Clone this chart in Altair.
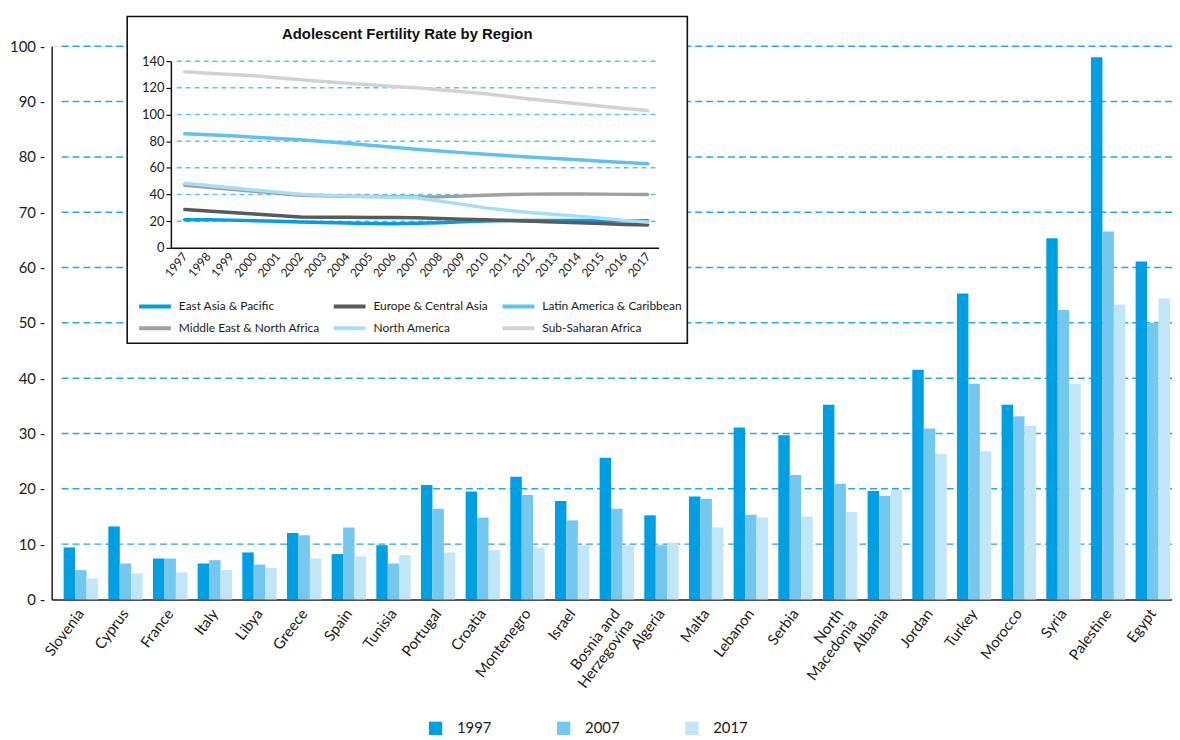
import altair as alt
import pandas as pd

# ---------------- main bar chart data ----------------
countries = ["Slovenia", "Cyprus", "France", "Italy", "Libya", "Greece", "Spain", "Tunisia",
             "Portugal", "Croatia", "Montenegro", "Israel", "Bosnia and Herzegovina", "Algeria",
             "Malta", "Lebanon", "Serbia", "North Macedonia", "Albania", "Jordan", "Turkey",
             "Morocco", "Syria", "Palestine", "Egypt"]
years = ["1997", "2007", "2017"]
v1997 = [9.4, 13.2, 7.4, 6.5, 8.5, 12.0, 8.2, 9.8, 20.7, 19.5, 22.2, 17.8, 25.6, 15.2,
         18.6, 31.1, 29.7, 35.2, 19.6, 41.5, 55.3, 35.2, 65.3, 98.0, 61.1]
v2007 = [5.3, 6.5, 7.4, 7.1, 6.3, 11.6, 13.0, 6.5, 16.4, 14.8, 18.9, 14.3, 16.4, 9.8,
         18.2, 15.3, 22.5, 20.9, 18.7, 30.9, 39.0, 33.1, 52.3, 66.5, 50.0]
v2017 = [3.8, 4.7, 4.9, 5.3, 5.7, 7.4, 7.8, 8.0, 8.5, 8.9, 9.4, 9.8, 9.8, 10.3,
         13.0, 14.8, 15.0, 15.8, 19.8, 26.3, 26.8, 31.4, 39.0, 53.3, 54.4]
bar_colors = ["#009fe3", "#74c8f0", "#c1e6f7"]
main_ticks = [0, 10, 20, 30, 40, 50, 60, 70, 80, 90, 100]
main_grid = [10, 20, 30, 40, 50, 60, 70, 80, 90, 100]

# ---------------- inset line chart data ----------------
inset_title = "Adolescent Fertility Rate by Region"
inset_years = list(range(1997, 2018))
regions = ["East Asia & Pacific", "Europe & Central Asia", "Latin America & Caribbean",
           "Middle East & North Africa", "North America", "Sub-Saharan Africa"]
ea = [21.1, 21.0, 20.8, 20.4, 20.0, 19.4, 19.0, 18.6, 18.2, 18.1, 18.4, 18.9, 19.6, 20.2,
      20.5, 20.6, 20.6, 20.5, 20.4, 20.4, 20.3]
eca = [28.8, 27.6, 26.5, 25.4, 24.2, 23.1, 23.0, 22.9, 22.8, 22.7, 22.5, 22.0, 21.5, 21.0,
       20.5, 19.9, 19.3, 18.8, 18.2, 17.6, 17.1]
lac = [85.5, 84.8, 84.0, 83.0, 82.0, 81.0, 79.8, 78.4, 77.0, 75.4, 74.0, 72.6, 71.4, 70.2,
       69.0, 68.0, 67.0, 66.0, 65.0, 64.0, 63.0]
mena = [47.0, 45.5, 44.0, 42.5, 41.0, 39.5, 39.0, 38.7, 38.5, 38.3, 38.2, 38.3, 38.8, 39.4,
        40.0, 40.3, 40.4, 40.4, 40.3, 40.1, 40.0]
na = [48.5, 46.8, 45.0, 43.4, 41.8, 40.2, 39.4, 38.8, 38.4, 38.0, 37.5, 35.2, 32.6, 30.0,
      28.0, 26.3, 25.0, 23.8, 22.2, 20.6, 19.4]
ssa = [132.0, 131.0, 130.0, 129.0, 127.5, 126.0, 124.8, 123.5, 122.3, 121.0, 120.0, 118.5,
       117.0, 115.5, 113.5, 111.5, 109.8, 108.0, 106.2, 104.5, 103.0]
line_colors = ["#009fe3", "#5a5a5a", "#5fc2ee", "#a0a0a0", "#a9ddf5", "#d2d2d2"]
inset_ticks = [0, 20, 40, 60, 80, 100, 120, 140]
inset_grid = [20, 40, 60, 80, 100, 120, 140]

# ---------------- tables ----------------
bar_rows = []
for i, c in enumerate(countries):
    for y, vals in zip(years, [v1997, v2007, v2017]):
        bar_rows.append({"country": c, "year": y, "value": vals[i]})
bars_df = pd.DataFrame(bar_rows)

line_rows = []
for r, vals in zip(regions, [ea, eca, lac, mena, na, ssa]):
    for yr, v in zip(inset_years, vals):
        line_rows.append({"region": r, "yr": yr, "rate": v})
lines_df = pd.DataFrame(line_rows)

W, H = 1128, 557
FONT = "Lato"

# ---------------- main layers ----------------
main_y_scale = alt.Scale(domain=[0, 100], nice=False, zero=True)

grid_main = alt.Chart(pd.DataFrame({"g": main_grid})).mark_rule(
    color="#2aa8e1", strokeWidth=1.5, strokeDash=[7, 4]
).encode(
    y=alt.Y("g:Q", scale=main_y_scale, axis=None),
    x=alt.value(10),
    x2=alt.value(W),
)

bars = alt.Chart(bars_df).mark_bar().encode(
    x=alt.X("country:N", sort=countries,
            scale=alt.Scale(paddingInner=0.23, paddingOuter=0.156, align=0.857),
            axis=alt.Axis(orient="bottom", title=None, ticks=False, grid=False,
                          domainColor="#222222", domainWidth=1.5,
                          labelAngle=-53, labelAlign="right", labelBaseline="middle",
                          labelFontSize=15, labelColor="#1a1a1a", labelPadding=11,
                          labelLimit=200,
                          labelExpr="datum.value == 'Bosnia and Herzegovina' ? ['Bosnia and', 'Herzegovina'] : datum.value == 'North Macedonia' ? ['North', 'Macedonia'] : datum.label")),
    xOffset=alt.XOffset("year:N", sort=years),
    y=alt.Y("value:Q", scale=main_y_scale,
            axis=alt.Axis(orient="left", title=None, values=main_ticks, ticks=False,
                          grid=False, domainColor="#222222", domainWidth=1.5,
                          labelFontSize=15, labelColor="#1a1a1a", labelPadding=7,
                          labelExpr="datum.label + ' -'")),
    color=alt.Color("year:N", sort=years,
                    scale=alt.Scale(domain=years, range=bar_colors),
                    legend=alt.Legend(orient="none", legendX=379, legendY=679,
                                      direction="horizontal", title=None,
                                      symbolType="square", symbolSize=180,
                                      symbolStrokeWidth=0, labelFontSize=15,
                                      labelColor="#1a1a1a", labelOffset=14,
                                      columnPadding=65, padding=0)),
)

# ---------------- inset frame ----------------
one = pd.DataFrame({"k": [0]})
frame = alt.Chart(one).mark_rect(fill="white", stroke="#111111", strokeWidth=1.6).encode(
    x=alt.value(76), x2=alt.value(640), y=alt.value(-30), y2=alt.value(299)
)

inset_x_scale = alt.Scale(domain=[1996.4, 2017.47], range=[120, 611], nice=False, zero=False)
inset_y_scale = alt.Scale(domain=[0, 140], range=[203, 15], nice=False)

grid_inset = alt.Chart(pd.DataFrame({"g": inset_grid})).mark_rule(
    color="#5cc3f0", strokeWidth=1.5, strokeDash=[5, 4]
).encode(
    y=alt.Y("g:Q", scale=inset_y_scale, axis=None),
    x=alt.value(126),
    x2=alt.value(611),
)

lines = alt.Chart(lines_df).mark_line(strokeWidth=3.5, strokeCap="round").encode(
    x=alt.X("yr:Q", scale=inset_x_scale,
            axis=alt.Axis(orient="bottom", offset=-354, title=None, values=inset_years,
                          format="d", ticks=False, grid=False, domainColor="#111111",
                          domainWidth=1.5, labelAngle=-50, labelAlign="right",
                          labelBaseline="middle", labelFontSize=12, labelColor="#1a1a1a",
                          labelPadding=6, labelOverlap=False, zindex=2)),
    y=alt.Y("rate:Q", scale=inset_y_scale,
            axis=alt.Axis(orient="left", offset=-120, title=None, values=inset_ticks,
                          grid=False, ticks=True, tickSize=5, tickColor="#111111",
                          tickWidth=1.2, domainColor="#111111", domainWidth=1.5,
                          labelFontSize=13, labelColor="#1a1a1a", labelPadding=2,
                          zindex=2)),
    color=alt.Color("region:N", sort=regions,
                    scale=alt.Scale(domain=regions, range=line_colors),
                    legend=alt.Legend(orient="none", legendX=86, legendY=252, columns=3,
                                      direction="horizontal",
                                      title=None, symbolType="stroke", symbolSize=1024,
                                      symbolStrokeWidth=4, labelFontSize=12,
                                      labelColor="#1a1a1a", labelOffset=6,
                                      columnPadding=12, rowPadding=2, clipHeight=20,
                                      padding=0, zindex=2)),
    order=alt.Order("yr:Q"),
)

title_txt = alt.Chart(pd.DataFrame({"t": [inset_title]})).mark_text(
    font="Liberation Sans", fontWeight="bold", fontSize=15, color="#111111",
    baseline="middle", align="center"
).encode(text="t:N", x=alt.value(358), y=alt.value(-12))

chart = alt.layer(grid_main, bars, frame, grid_inset, lines, title_txt).resolve_scale(
    x="independent", y="independent", color="independent"
).properties(
    width=W, height=H,
    autosize=alt.AutoSizeParams(type="none"),
    padding={"left": 44, "top": 36, "right": 0, "bottom": 138},
).configure_view(stroke=None).configure(font=FONT)

chart.save("out.html", embed_options={"renderer": "svg", "actions": False})
